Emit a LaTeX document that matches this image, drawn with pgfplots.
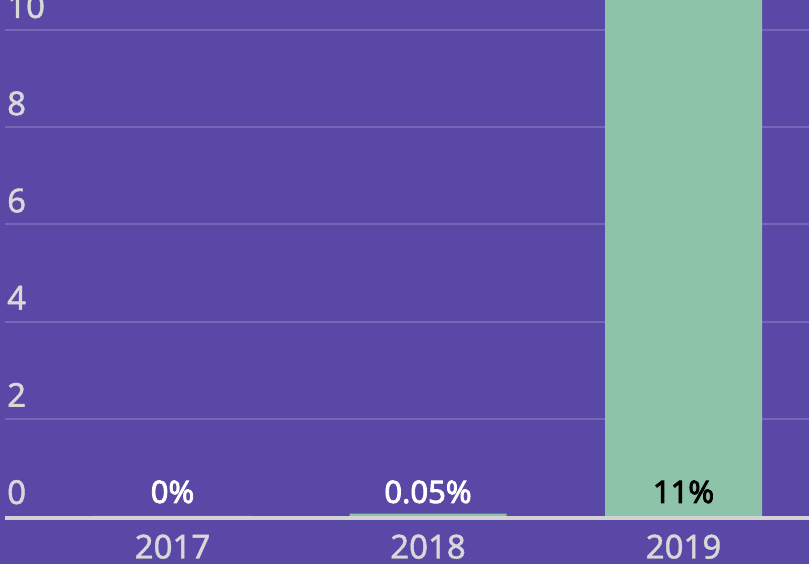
\documentclass[border=0pt]{standalone}
\usepackage{fontspec}
\setmainfont{Noto Sans}[FakeBold=1.2]
\newfontfamily\labfont{Noto Sans}[FakeBold=2.6]
\usepackage{pgfplots}
\pgfplotsset{compat=1.18}
\definecolor{bg}{HTML}{5A48A6}
\definecolor{gridc}{HTML}{7566B8}
\definecolor{barc}{HTML}{8DC3A8}
\definecolor{txt}{HTML}{D8D8D8}
\definecolor{axl}{HTML}{D2D2D2}
\begin{document}
\begin{tikzpicture}[x=1pt,y=1pt]
\fill[bg] (0,0) rectangle (809,564);
\path[use as bounding box] (0,0) rectangle (809,564);
\begin{axis}[
  at={(5pt,48pt)}, anchor=south west,
  scale only axis, width=804pt, height=516pt,
  xmin=-0.6556, xmax=2.4912, ymin=0, ymax=10.617,
  axis line style={draw=none},
  major tick length=0pt,
  xtick={0,1,2}, xticklabels={2017,2018,2019},
  ytick={2,4,6,8,10},
  extra y ticks={0},
  extra y tick style={grid style={axl, line width=4pt, yshift=-2pt}},
  ymajorgrids,
  grid style={gridc, line width=2pt},
  /pgf/number format/assume math mode=true,
  yticklabel style={anchor=base west, inner sep=0pt, xshift=2pt, yshift=12pt,
    font=\fontsize{33}{36}\selectfont, text=txt},
  xticklabel style={anchor=base, inner sep=0pt, yshift=-42.5pt,
    font=\fontsize{33}{36}\selectfont, text=txt},
]
\addplot[ybar, bar width=0.6145, bar shift=0pt, fill=barc, draw=none]
  coordinates {(0,0) (1,0.05) (2,11)};
\addplot[draw=none, nodes near coords, point meta=explicit symbolic,
  nodes near coords style={anchor=base, inner sep=0pt, yshift=13pt, text=white,
    font=\labfont\fontsize{31}{34}\selectfont}]
  coordinates {(0,0) [0\%] (1,0) [0.05\%]};
\addplot[draw=none, nodes near coords, point meta=explicit symbolic,
  nodes near coords style={anchor=base, inner sep=0pt, yshift=13pt, text=black,
    font=\labfont\fontsize{31}{34}\selectfont}]
  coordinates {(2,0) [11\%]};
\end{axis}
\end{tikzpicture}
\end{document}
